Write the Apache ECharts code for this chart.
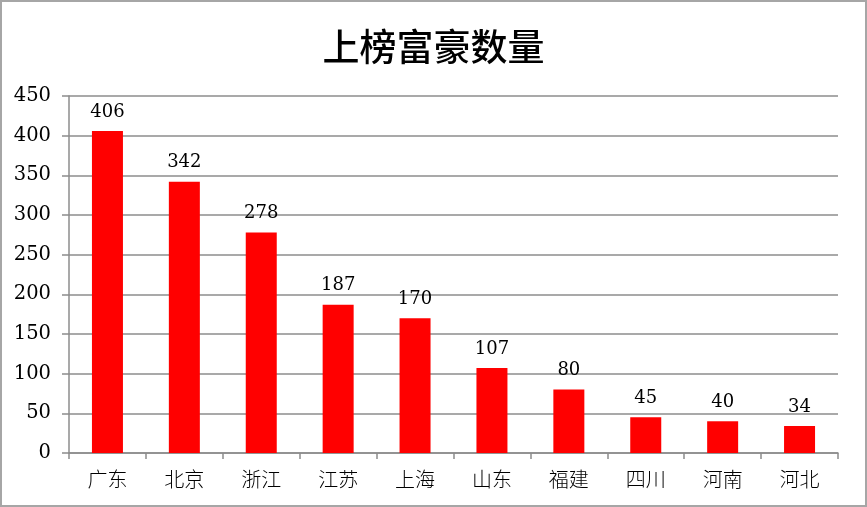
<!DOCTYPE html>
<html><head><meta charset="utf-8">
<script src="https://cdn.jsdelivr.net/npm/echarts@6/dist/echarts.min.js"></script>
<style>
html,body{margin:0;padding:0;background:#fff;}
#c{width:867px;height:507px;box-sizing:border-box;border:2px solid #a6a6a6;}
</style></head><body>
<div id="c"></div>
<script>
const categories = ['广东','北京','浙江','江苏','上海','山东','福建','四川','河南','河北'];
const values = [406,342,278,187,170,107,80,45,40,34];
const titleText = '上榜富豪数量';
const chart = echarts.init(document.getElementById('c'), null, {renderer:'canvas'});
chart.setOption({
  backgroundColor:'#fff',
  animation:false,
  title:{text:titleText,left:'center',top:21,textStyle:{fontFamily:'Noto Sans CJK SC',fontSize:37,fontWeight:500,color:'#000'}},
  grid:{left:67,right:27,top:94,bottom:52,containLabel:false},
  xAxis:{type:'category',data:categories,
    axisLine:{lineStyle:{color:'#8c8c8c',width:1.5}},
    axisTick:{show:true,length:6,alignWithLabel:false,lineStyle:{color:'#8c8c8c',width:1.5}},
    axisLabel:{color:'#000',fontSize:20,fontFamily:'Noto Sans CJK SC',fontWeight:300,margin:16}},
  yAxis:{type:'value',min:0,max:450,interval:50,
    axisLine:{show:true,lineStyle:{color:'#8c8c8c',width:1.5}},
    axisTick:{show:true,length:7,lineStyle:{color:'#8c8c8c',width:1.5}},
    splitLine:{lineStyle:{color:'#8c8c8c',width:1.5}},
    axisLabel:{color:'#000',fontSize:19.5,fontFamily:'DejaVu Serif',margin:18}},
  series:[{type:'bar',data:values,barWidth:31,
    itemStyle:{color:'#ff0000'},
    label:{show:true,position:'top',distance:10,color:'#000',fontSize:18,fontFamily:'DejaVu Serif'}}]
});
</script></body></html>
